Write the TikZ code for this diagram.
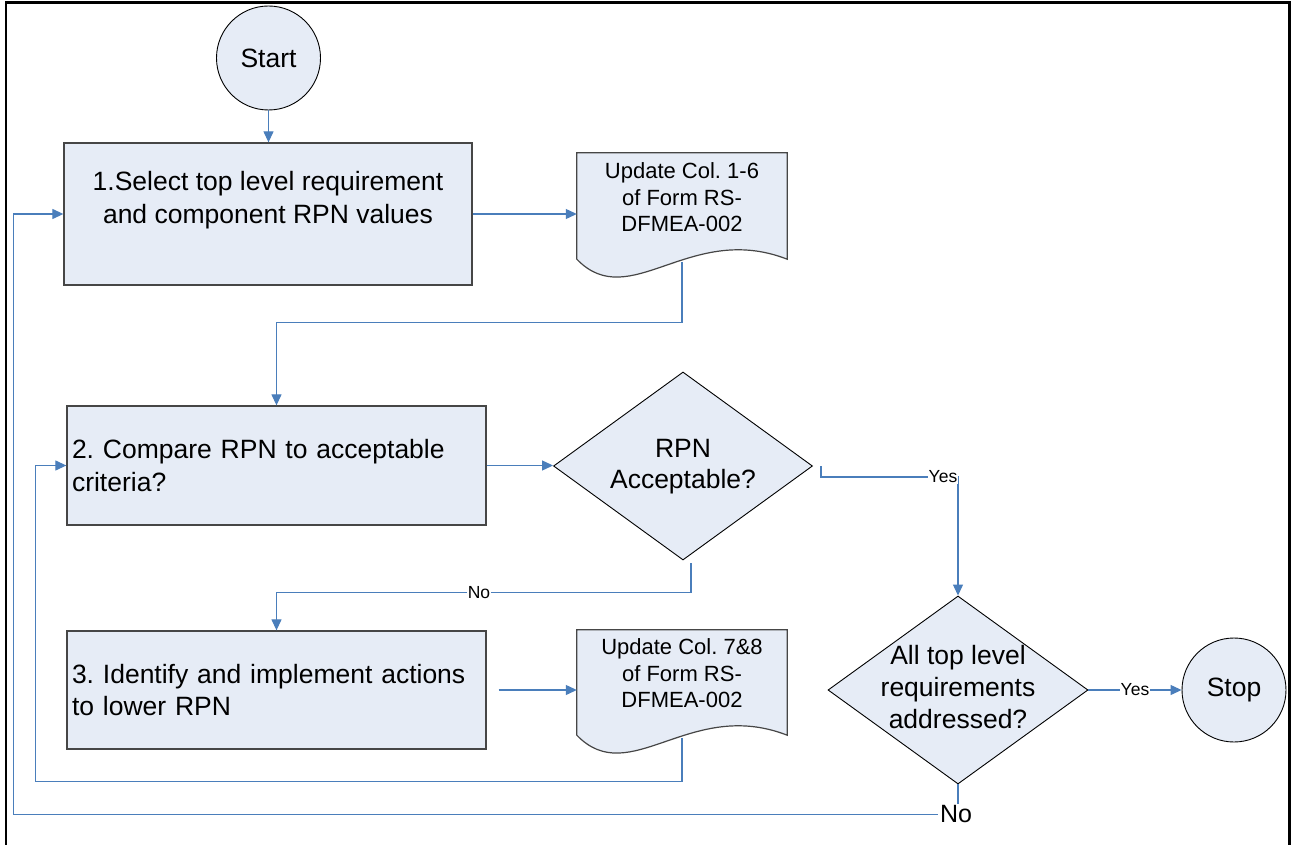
\documentclass[tikz,border=0pt]{standalone}
\usepackage{fontspec}
\setmainfont{Liberation Sans}
\frenchspacing
\usetikzlibrary{shapes.geometric,arrows.meta,calc}

\definecolor{flowblue}{RGB}{74,126,187}
\definecolor{shapefill}{RGB}{230,236,246}
\definecolor{edgegrey}{RGB}{70,70,70}

\newcommand\fsz[2]{\fontsize{#1}{#2}\selectfont}

% document symbol drawn around an (invisible) rectangle node: flat top, wavy bottom
\newcommand\drawdoc[1]{%
  \filldraw[docline] (#1.north west) -- (#1.north east) -- (#1.south east)
    .. controls ($(#1.south west)+(113,-38)$) and ($(#1.south west)+(53,55)$) .. (#1.south west) -- cycle;}

\tikzset{
  stepbox/.style={rectangle, draw=edgegrey, line width=1.3pt, fill=shapefill, inner sep=0pt},
  steptext/.style={font={\fsz{26.5}{32.5}\frenchspacing}, align=left},
  term/.style={circle, draw=black, line width=0.9pt, fill=shapefill, minimum size=104pt,
    inner sep=0pt, font={\fsz{26.5}{32}}},
  decision/.style={diamond, draw=black, line width=0.9pt, fill=shapefill, inner sep=0pt},
  decisiontext/.style={align=center, inner sep=0pt},
  docbox/.style={rectangle, inner sep=0pt, minimum width=210pt},
  docline/.style={draw=edgegrey, line width=1.2pt, fill=shapefill},
  doctext/.style={font={\fsz{22}{26.5}\frenchspacing}, align=center, inner sep=0pt},
  conn/.style={draw=flowblue, line width=1.2pt, -{Triangle[length=11pt,width=10pt]}},
  answer/.style={fill=white, inner sep=1.2pt, font={\fsz{17.5}{20}}},
  frame/.style={draw=black, line width=2.5pt}
}

\begin{document}
\begin{tikzpicture}[x=1pt,y=-1pt]
\useasboundingbox (0,0) rectangle (1291,845);
\fill[white] (0,0) rectangle (1291,845);
\draw[frame] (6,845) -- (6,2.5) -- (1289.5,2.5) -- (1289.5,845);

% terminals
\node[term] (start) at (268.5,58) {Start};
\node[term] (stop) at (1234,690) {Stop};

% process steps
\node[stepbox, minimum width=408pt, minimum height=142pt] (b1) at (268,214) {};
\node[steptext, align=center] (b1t) at ($(b1.center)+(0,-14)$)
  {1.Select top level requirement\\and component RPN values};

\node[stepbox, steptext, minimum width=419pt, minimum height=119pt,
  text width=409pt, inner xsep=5pt] (b2) at (276.5,465.5)
  {2. Compare RPN to acceptable\\criteria?};

\node[stepbox, steptext, minimum width=419pt, minimum height=118pt,
  text width=409pt, inner xsep=5pt] (b3) at (276.5,690)
  {3. Identify and implement actions\\to lower RPN};

% form documents
\node[docbox, minimum height=106pt] (d1) at (682,206) {};
\drawdoc{d1}
\node[doctext] (d1t) at ($(d1.center)+(0,-8.5)$) {Update Col. 1-6\\of Form RS-\\DFMEA-002};

\node[docbox, minimum height=105pt] (d2) at (682,682.5) {};
\drawdoc{d2}
\node[doctext] (d2t) at ($(d2.center)+(0,-9)$) {Update Col. 7\&8\\of Form RS-\\DFMEA-002};

% decisions
\node[decision, minimum width=259pt, minimum height=188pt] (dec1) at (683,466) {};
\node[decisiontext, font={\fsz{26.5}{31}}] (dec1t) at ($(dec1.center)+(0,0.5)$)
  {RPN\\Acceptable?};

\node[decision, minimum width=260pt, minimum height=188pt] (dec2) at (958,690) {};
\node[decisiontext, font={\fsz{26.5}{32}}] (dec2t) at ($(dec2.center)+(0,-2.5)$)
  {All top level\\requirements\\addressed?};

% main flow
\draw[conn] (start.south) -- (start.south |- b1.north);
\draw[conn] (b1.east) -- (b1.east -| d1.west);

\coordinate (j1) at ($(b2.north)+(0,-83)$);
\draw[conn] ([yshift=-3pt]d1.south) -- (d1.south |- j1) -- (j1) -- (b2.north);

\draw[conn] (b2.east) -- (b2.east -| dec1.west);

% RPN acceptable: yes
\coordinate (j2) at ($(dec1.east)+(8,11)$);
\draw[conn] ([xshift=8pt]dec1.east) -- (j2) -- (j2 -| dec2.north) -- (dec2.north);
\node[answer] (yes1) at ($(j2 -| dec2.north)+(-15,0)$) {Yes};

% RPN acceptable: no
\coordinate (j3) at ($(dec1.south)+(8,32)$);
\draw[conn] ([xshift=8pt,yshift=-3pt]dec1.south) -- (j3) -- (j3 -| b3.north) -- (b3.north);
\node[answer] (no1) at ($(j3)+(-212,0)$) {No};

\draw[conn] ([xshift=12pt]b3.east) -- (b3.east -| d2.west);

% re-check loop after updating the form
\coordinate (j4) at ($(d2.south)+(0,46)$);
\coordinate (j5) at ($(b2.west)+(-31,0)$);
\draw[conn] ([yshift=-3pt]d2.south) -- (j4) -- (j4 -| j5) -- (j5) -- (b2.west);

% all requirements addressed: yes
\draw[conn] (dec2.east) -- (stop.west);
\node[answer] (yes2) at ($(dec2.east)!0.5!(stop.west)$) {Yes};

% all requirements addressed: no
\coordinate (j6) at ($(dec2.south)+(0,30)$);
\coordinate (j7) at ($(b1.west)+(-50,0)$);
\draw[conn] (dec2.south) -- (j6) -- (j6 -| j7) -- (j7) -- (b1.west);
\node[answer, inner sep=2pt, font={\fsz{25}{28}}] (no2) at ($(j6)+(-2,0)$) {No};
\end{tikzpicture}
\end{document}
